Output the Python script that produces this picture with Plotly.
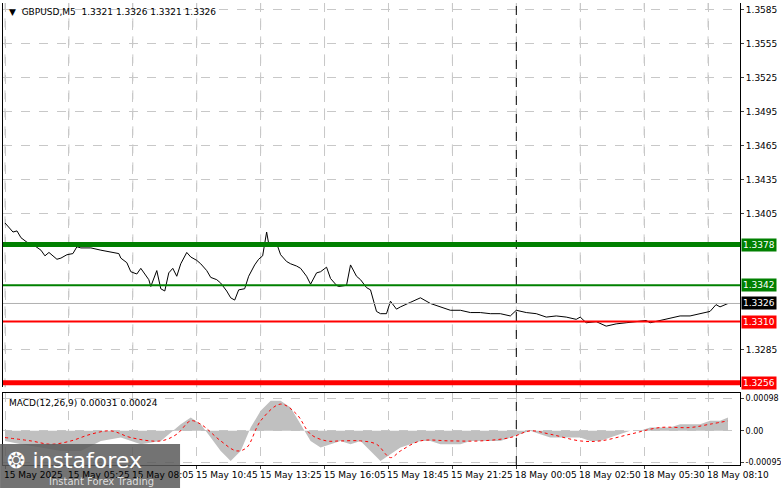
import plotly.graph_objects as go

# bar index (5-minute bars from chart start) and close prices
bars = [0, 4, 6, 8, 11, 14, 18, 20, 22, 26, 28, 31, 34, 36, 38, 43, 48, 53, 57, 58, 61, 63, 66, 68, 72, 73, 76, 78, 80,
        82, 84, 86, 88, 91, 93, 96, 98, 101, 103, 106, 108, 111, 113, 115, 117, 120, 122, 125, 127, 129, 131, 132, 134,
        136, 138, 141, 143, 146, 148, 151, 153, 156, 158, 161, 163, 166, 167, 171, 173, 176, 178, 181, 183, 186, 188,
        191, 193, 196, 198, 203, 208, 213, 218, 223, 228, 233, 238, 243, 248, 253, 256, 261, 266, 271, 276, 281, 286,
        288, 291, 296, 301, 306, 311, 316, 321, 323, 328, 333, 338, 343, 348, 353, 356, 358, 362]
close = [1.3397, 1.3389, 1.3390, 1.3384, 1.3380, 1.3378, 1.3373, 1.3368, 1.3371, 1.3365, 1.3366, 1.3369, 1.3370,
         1.3376, 1.3375, 1.3375, 1.3373, 1.3371, 1.3370, 1.3366, 1.3362, 1.3354, 1.3352, 1.3357, 1.3347, 1.3341,
         1.3355, 1.3339, 1.3337, 1.3353, 1.3357, 1.3350, 1.3361, 1.3371, 1.3367, 1.3364, 1.3361, 1.3355, 1.3349,
         1.3347, 1.3344, 1.3337, 1.3331, 1.3329, 1.3338, 1.3339, 1.3350, 1.3360, 1.3365, 1.3368, 1.3389, 1.3379,
         1.3377, 1.3379, 1.3369, 1.3363, 1.3361, 1.3359, 1.3357, 1.3350, 1.3343, 1.3353, 1.3354, 1.3358, 1.3348,
         1.3342, 1.3341, 1.3342, 1.3360, 1.3350, 1.3347, 1.3340, 1.3338, 1.3319, 1.3317, 1.3317, 1.3328, 1.3321,
         1.3323, 1.3327, 1.3331, 1.3326, 1.3323, 1.3320, 1.3320, 1.3318, 1.3318, 1.3317, 1.3317, 1.3315, 1.3320,
         1.3318, 1.3317, 1.3314, 1.3315, 1.3314, 1.3312, 1.3314, 1.3309, 1.3310, 1.3306, 1.3308, 1.3309, 1.3310,
         1.3311, 1.3309, 1.3311, 1.3313, 1.3315, 1.3315, 1.3317, 1.3319, 1.3325, 1.3323, 1.3326]

hist_bars = [0, 8, 18, 28, 38, 48, 58, 68, 78, 88, 93, 98, 103, 108, 113, 118, 123, 128, 133, 138, 143, 148, 153, 158,
             163, 168, 173, 178, 183, 188, 193, 198, 203, 208, 213, 218, 223, 228, 233, 238, 243, 248, 253, 258, 263,
             268, 273, 278, 283, 288, 293, 298, 303, 308, 313, 318, 323, 328, 333, 338, 343, 348, 353, 358, 362]
macd_hist = [-0.0003, -0.0004, -0.0005, -0.0006, -0.0006, -0.0003, -0.0002, -0.0004, -0.0003, 0.0002, 0.0004, 0.0002,
             -0.0002, -0.0006, -0.0009, -0.0006, 0.0001, 0.0006, 0.0009, 0.0009, 0.0007, 0.0002, -0.0003, -0.0005,
             -0.0004, -0.0003, -0.0004, -0.0003, -0.0006, -0.0009, -0.0007, -0.0005, -0.0004, -0.0003, -0.0003,
             -0.0004, -0.0004, -0.0004, -0.0003, -0.0003, -0.0003, -0.0003, -0.0002, -0.0001, 0.0000, -0.0001,
             -0.0002, -0.0002, -0.0002, -0.0002, -0.0003, -0.0003, -0.0002, -0.0001, 0.0000, 0.0000, 0.0001, 0.0001,
             0.0001, 0.0002, 0.0002, 0.0002, 0.0003, 0.0003, 0.0004]
sig_bars = [0, 13, 23, 33, 43, 53, 63, 78, 86, 93, 98, 108, 116, 121, 128, 138, 146, 153, 161, 168, 178, 186, 193, 198,
            208, 223, 238, 253, 263, 273, 288, 298, 313, 328, 343, 353, 362]
macd_signal = [-0.0002, -0.0003, -0.0004, -0.0003, -0.0001, 0.0000, -0.0002, -0.0003, -0.0001, 0.0003, 0.0002, -0.0003,
               -0.0006, -0.0005, 0.0003, 0.0008, 0.0005, -0.0001, -0.0003, -0.0003, -0.0003, -0.0004, -0.0008,
               -0.0006, -0.0003, -0.0003, -0.0003, -0.0002, 0.0000, -0.0001, -0.0003, -0.0003, -0.0001, 0.0001,
               0.0001, 0.0002, 0.0003]

tick_bars = [0, 32, 64, 96, 128, 160, 192, 224, 256, 288, 320, 352]
tick_labels = ["15 May 2025", "15 May 05:25", "15 May 08:05", "15 May 10:45", "15 May 13:25", "15 May 16:05",
               "15 May 18:45", "15 May 21:25", "18 May 00:05", "18 May 02:50", "18 May 05:30", "18 May 08:10"]
price_ticks = [1.3585, 1.3555, 1.3525, 1.3495, 1.3465, 1.3435, 1.3405, 1.3285]
levels = [(1.3378, "green", 5), (1.3342, "green", 2), (1.3310, "red", 2), (1.3256, "red", 5)]
last_price = 1.3326

FONT = "DejaVu Sans"
fig = go.Figure()
fig.add_trace(go.Scatter(x=bars, y=close, mode="lines", line=dict(color="black", width=1), xaxis="x", yaxis="y"))
fig.add_trace(go.Scatter(x=hist_bars, y=macd_hist, mode="lines", line=dict(width=0), fill="tozeroy",
                         fillcolor="#c0c0c0", xaxis="x", yaxis="y2"))
fig.add_trace(go.Scatter(x=sig_bars, y=macd_signal, mode="lines",
                         line=dict(color="red", width=1, dash="dot", shape="spline"), xaxis="x", yaxis="y2"))

grid = dict(showgrid=True, gridcolor="#c8c8c8", griddash="dash", gridwidth=1, zeroline=False, automargin=False,
            showline=True, linecolor="black", mirror=True, ticks="outside", ticklen=3, tickfont=dict(size=9))
fig.update_layout(
    width=781, height=489, showlegend=False, plot_bgcolor="white", paper_bgcolor="white",
    margin=dict(l=3, r=41, t=3, b=24, autoexpand=False), font=dict(family=FONT, size=9, color="black"),
    xaxis=dict(range=[-1, 368], tickvals=tick_bars, showticklabels=False, anchor="y2", **grid),
    yaxis=dict(domain=[0.168, 1], range=[1.3252, 1.3591], side="right", tickvals=price_ticks,
               tickformat=".4f", **grid),
    yaxis2=dict(domain=[0, 0.155], range=[-0.00102, 0.00112], side="right", tickvals=[0.00098, 0, -0.00095],
                ticktext=["0.00098", "0.00", "-0.00095"], **grid),
)
fig.update_layout(yaxis2_tickfont=dict(size=8))
for tb in tick_bars:
    fig.add_shape(type="line", x0=tb, x1=tb, y0=0.168, y1=1, xref="x", yref="paper",
                  line=dict(color="#c8c8c8", width=1, dash="dash"), layer="below")
fig.add_shape(type="line", x0=256, x1=256, y0=0, y1=1, xref="x", yref="paper",
              line=dict(color="black", width=1, dash="dash"))
fig.add_shape(type="line", x0=-1, x1=368, y0=last_price, y1=last_price, xref="x", yref="y",
              line=dict(color="#b0b0b0", width=1))
for val, col, w in levels:
    fig.add_shape(type="line", x0=-1, x1=368, y0=val, y1=val, xref="x", yref="y", line=dict(color=col, width=w))
    fig.add_annotation(x=1.0, xref="paper", y=val, yref="y", text=f"{val:.4f}", showarrow=False, xanchor="left",
                       bgcolor=col, font=dict(color="white", size=9), borderpad=1, xshift=1)
fig.add_annotation(x=1.0, xref="paper", y=last_price, yref="y", text=f"{last_price:.4f}", showarrow=False,
                   xanchor="left", bgcolor="black", font=dict(color="white", size=9), borderpad=1, xshift=1)
for tb, lab in zip(tick_bars, tick_labels):
    fig.add_annotation(x=tb, xref="x", y=0, yref="paper", text=lab, showarrow=False, xanchor="left",
                       yanchor="top", yshift=-3, xshift=-3, font=dict(size=9))
fig.add_annotation(x=0.005, xref="paper", y=1, yref="paper", text="▼  GBPUSD,M5  1.3321 1.3326 1.3321 1.3326",
                   showarrow=False, xanchor="left", yanchor="top", font=dict(size=9), yshift=-2)
fig.add_annotation(x=0.005, xref="paper", y=0.155, yref="paper", text="MACD(12,26,9) 0.00031 0.00024",
                   showarrow=False, xanchor="left", yanchor="top", font=dict(size=9), yshift=-3)
# watermark
fig.add_shape(type="rect", x0=0, x1=180, y0=0, y1=44, xref="paper", yref="paper", xsizemode="pixel",
              ysizemode="pixel", xanchor=-0.004, yanchor=-0.05, fillcolor="rgba(90,90,90,0.85)", line=dict(width=0))
fig.add_annotation(x=0, xref="paper", y=0, yref="paper", text="❂ instaforex", showarrow=False, xanchor="left",
                   yanchor="bottom", xshift=2, yshift=-10, font=dict(size=22, color="white"))
fig.add_annotation(x=0, xref="paper", y=0, yref="paper", text="Instant Forex Trading", showarrow=False,
                   xanchor="left", yanchor="top", xshift=44, yshift=-9, font=dict(size=10, color="#dddddd"))
fig.write_html("out.html", config={"displayModeBar": False}, post_script="document.body.style.margin='0';")
